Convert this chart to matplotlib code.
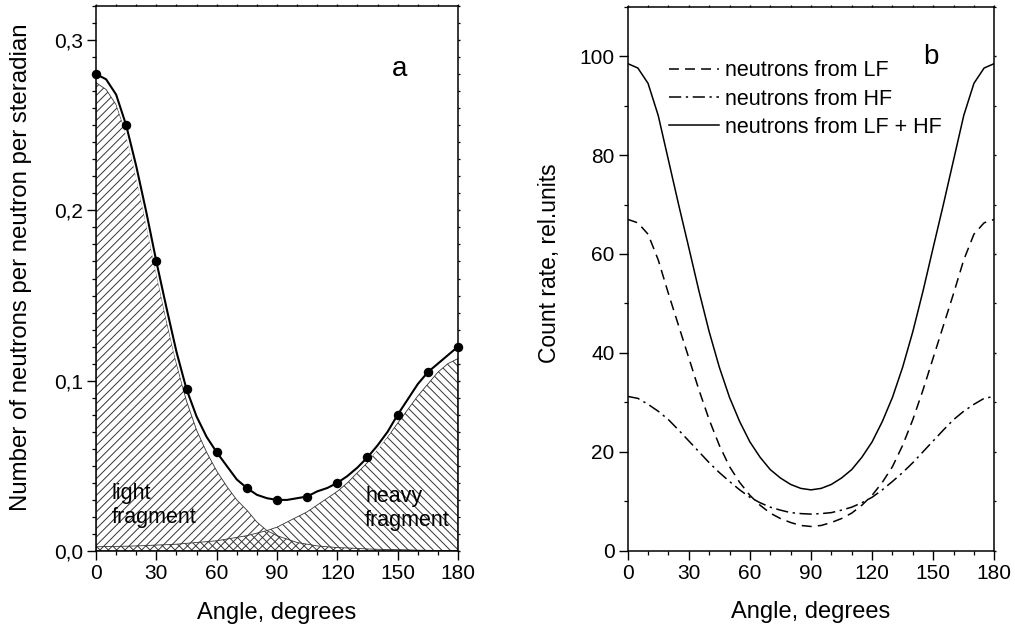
import matplotlib
matplotlib.use("Agg")
import matplotlib.pyplot as plt
from matplotlib.ticker import MultipleLocator, FuncFormatter

plt.rcParams["font.family"] = ["Liberation Sans", "DejaVu Sans"]
plt.rcParams["hatch.linewidth"] = 0.7

# panel a: angular distribution, neutrons per neutron per steradian
angle = [0, 5, 10, 15, 20, 25, 30, 35, 40, 45, 50, 55, 60, 65, 70, 75, 80, 85, 90,
         95, 100, 105, 110, 115, 120, 125, 130, 135, 140, 145, 150, 155, 160, 165, 170, 175, 180]
total_fit = [0.280, 0.277, 0.268, 0.250, 0.226, 0.199, 0.170, 0.143, 0.117, 0.095,
             0.079, 0.067, 0.058, 0.050, 0.042, 0.037, 0.033, 0.031, 0.030, 0.030,
             0.031, 0.032, 0.035, 0.037, 0.040, 0.044, 0.049, 0.055, 0.062, 0.070,
             0.080, 0.089, 0.098, 0.105, 0.110, 0.115, 0.120]
light = [0.275, 0.271, 0.262, 0.245, 0.220, 0.192, 0.163, 0.135, 0.110, 0.088,
         0.071, 0.058, 0.047, 0.038, 0.030, 0.024, 0.017, 0.012, 0.009, 0.007,
         0.005, 0.004, 0.003, 0.0025, 0.002, 0.0018, 0.0015, 0.0012, 0.001, 0.0009,
         0.0008, 0.0007, 0.0005, 0.0004, 0.0003, 0.0002, 0.0002]
heavy = [0.0025, 0.0026, 0.0027, 0.0028, 0.003, 0.0032, 0.0035, 0.0037, 0.004, 0.0045,
         0.005, 0.0055, 0.006, 0.007, 0.008, 0.009, 0.0105, 0.012, 0.014, 0.017,
         0.020, 0.023, 0.027, 0.031, 0.035, 0.040, 0.046, 0.052, 0.060, 0.067,
         0.075, 0.083, 0.091, 0.098, 0.105, 0.110, 0.113]
pt_angle = [0, 15, 30, 45, 60, 75, 90, 105, 120, 135, 150, 165, 180]
pt_value = [0.280, 0.250, 0.170, 0.095, 0.058, 0.037, 0.030, 0.032, 0.040, 0.055, 0.080, 0.105, 0.120]

# panel b: count rate, rel. units
lf = [67.0, 66.3, 64.0, 58.8, 52.0, 45.5, 39.0, 32.5, 26.5, 21.3, 17.0, 13.8, 11.2, 9.2,
      7.6, 6.5, 5.7, 5.1, 4.9, 5.1, 5.7, 6.5, 7.6, 9.2, 11.2, 13.8, 17.0, 21.3, 26.5,
      32.5, 39.0, 45.5, 52.0, 58.8, 64.0, 66.3, 67.0]
hf = [31.2, 30.8, 29.6, 28.2, 26.5, 24.4, 22.2, 20.0, 17.8, 15.8, 14.0, 12.3, 10.8, 9.7,
      8.8, 8.2, 7.7, 7.5, 7.4, 7.5, 7.7, 8.2, 8.8, 9.7, 10.8, 12.3, 14.0, 15.8, 17.8,
      20.0, 22.2, 24.4, 26.5, 28.2, 29.6, 30.8, 31.2]
lf_hf = [98.5, 97.6, 94.5, 88.0, 79.0, 70.0, 61.3, 52.5, 44.3, 37.1, 31.0, 26.1, 22.0, 18.9,
         16.4, 14.7, 13.4, 12.6, 12.3, 12.6, 13.4, 14.7, 16.4, 18.9, 22.0, 26.1, 31.0, 37.1,
         44.3, 52.5, 61.3, 70.0, 79.0, 88.0, 94.5, 97.6, 98.5]


def style_axes(ax):
    for s in ax.spines.values():
        s.set_linewidth(1.1)
    ax.tick_params(which="major", direction="out", length=6.5, width=1.0, labelsize=15, pad=3)
    ax.tick_params(which="minor", direction="out", length=3.2, width=0.9)
    ax.tick_params(which="both", top=True, right=True)
    ax.xaxis.set_major_locator(MultipleLocator(30))
    ax.xaxis.set_minor_locator(MultipleLocator(10))
    ax.set_xlim(0, 180)
    ax.set_xlabel("Angle, degrees", fontsize=17)
    ax.xaxis.set_label_coords(0.5, -0.093)
    # mirrored ticks on top/right are very short in the original
    for t in ax.xaxis.get_major_ticks() + ax.xaxis.get_minor_ticks():
        t.tick2line.set_markersize(1.5)
    for t in ax.yaxis.get_major_ticks() + ax.yaxis.get_minor_ticks():
        t.tick2line.set_markersize(1.5)


fig = plt.figure(figsize=(10.15, 6.27), dpi=100)
ax1 = fig.add_axes([0.0946, 0.1212, 0.3566, 0.8692])
ax2 = fig.add_axes([0.6184, 0.1217, 0.3612, 0.8676])

# --- panel a
ax1.fill_between(angle, 0, light, facecolor="none", edgecolor="#333333", hatch="////", linewidth=0.6)
ax1.fill_between(angle, 0, heavy, facecolor="none", edgecolor="#333333", hatch="\\\\\\\\", linewidth=0.6)
ax1.plot(angle, total_fit, color="white", linewidth=4, zorder=3)
ax1.plot(angle, total_fit, color="black", linewidth=1.5, zorder=4)
ax1.plot(pt_angle, pt_value, "o", color="black", markersize=5.8, zorder=5, clip_on=False)
ax1.set_ylim(0, 0.32)
ax1.yaxis.set_major_locator(MultipleLocator(0.1))
ax1.yaxis.set_minor_locator(MultipleLocator(0.01))
ax1.yaxis.set_major_formatter(FuncFormatter(lambda v, _: f"{v:.1f}".replace(".", ",")))
ax1.set_ylabel("Number of neutrons per neutron per steradian", fontsize=17.3)
ax1.yaxis.set_label_coords(-0.178, 0.521)
style_axes(ax1)
ax1.text(7.8, 0.0305, "light", fontsize=15.5, ha="left", va="baseline", zorder=6)
ax1.text(7.8, 0.0167, "fragment", fontsize=15.5, ha="left", va="baseline", zorder=6)
ax1.text(133.8, 0.029, "heavy", fontsize=15.5, ha="left", va="baseline", zorder=6)
ax1.text(133.8, 0.0145, "fragment", fontsize=15.5, ha="left", va="baseline", zorder=6)
ax1.text(147.3, 0.279, "a", fontsize=20, ha="left", va="baseline")

# --- panel b
ax2.plot(angle, lf, color="black", linewidth=1.1, linestyle=(0, (6.5, 4)), label="neutrons from LF")
ax2.plot(angle, hf, color="black", linewidth=1.1, linestyle=(0, (8, 3, 1.5, 3)), label="neutrons from HF")
ax2.plot(angle, lf_hf, color="black", linewidth=1.1, label="neutrons from LF + HF")
ax2.set_ylim(0, 110)
ax2.yaxis.set_major_locator(MultipleLocator(20))
ax2.yaxis.set_minor_locator(MultipleLocator(10))
ax2.set_ylabel("Count rate, rel.units", fontsize=16.5)
ax2.yaxis.set_label_coords(-0.182, 0.529)
style_axes(ax2)
ax2.legend(loc="upper left", bbox_to_anchor=(0.09, 0.917), frameon=False, fontsize=15.5,
           handlelength=2.3, handletextpad=0.3, labelspacing=0.33, borderaxespad=0)
ax2.text(145, 98.5, "b", fontsize=20, ha="left", va="baseline")

fig.savefig("out.png", dpi=100)
